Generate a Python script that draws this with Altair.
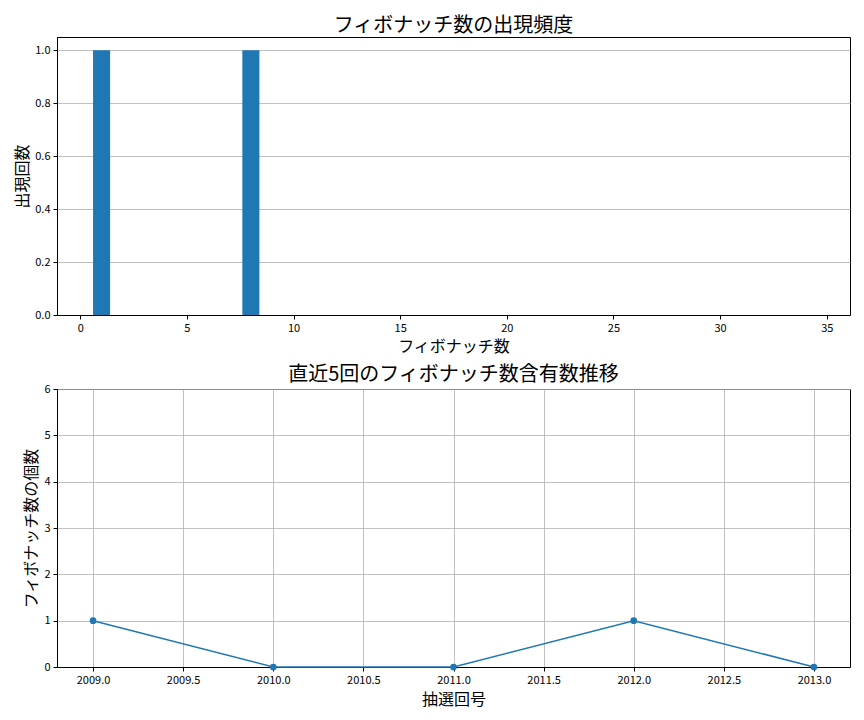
import altair as alt
import pandas as pd

fib_numbers = [1, 2, 3, 5, 8, 13, 21, 34]
fib_counts = [1, 0, 0, 0, 1, 0, 0, 0]

draws = [2009, 2010, 2011, 2012, 2013]
fib_in_draw = [1, 0, 0, 1, 0]

FONT = "Noto Sans CJK JP"
LABEL_FONT = "Liberation Sans Narrow, Noto Sans CJK JP"
BLUE = "#1f77b4"

df1 = pd.DataFrame({"fib": fib_numbers, "count": fib_counts})
df2 = pd.DataFrame({"draw": draws, "n": fib_in_draw})

top = alt.Chart(df1).transform_calculate(
    x0="datum.fib - 0.4", x1="datum.fib + 0.4"
).mark_bar(color=BLUE).encode(
    x=alt.X("x0:Q", scale=alt.Scale(domain=[-1.09, 36.09], nice=False, zero=False),
            axis=alt.Axis(title="フィボナッチ数", values=[0, 5, 10, 15, 20, 25, 30, 35],
                          grid=False, format="d", titlePadding=5)),
    x2="x1:Q",
    y=alt.Y("count:Q", scale=alt.Scale(domain=[0, 1.05], nice=False),
            axis=alt.Axis(title="出現回数", values=[0, 0.2, 0.4, 0.6, 0.8, 1.0],
                          format=".1f", grid=True, titlePadding=4)),
    y2=alt.Y2(datum=0),
).properties(
    width=793, height=278,
    title=alt.TitleParams("フィボナッチ数の出現頻度", fontSize=20, font=FONT,
                          fontWeight="normal", offset=1),
)

line = alt.Chart(df2).mark_line(color=BLUE, strokeWidth=1.5).encode(
    x=alt.X("draw:Q", scale=alt.Scale(domain=[2008.8, 2013.2], nice=False, zero=False),
            axis=alt.Axis(title="抽選回号",
                          values=[2009, 2009.5, 2010, 2010.5, 2011, 2011.5, 2012, 2012.5, 2013],
                          format=".1f", grid=True, titlePadding=6)),
    y=alt.Y("n:Q", scale=alt.Scale(domain=[0, 6], nice=False),
            axis=alt.Axis(title="フィボナッチ数の個数", values=[0, 1, 2, 3, 4, 5, 6],
                          format="d", grid=True, titlePadding=4)),
)
pts = alt.Chart(df2).mark_point(color=BLUE, filled=True, opacity=1, size=45).encode(
    x="draw:Q", y="n:Q"
)
bottom = alt.layer(line, pts).properties(
    width=793, height=278,
    title=alt.TitleParams("直近5回のフィボナッチ数含有数推移", fontSize=20, font=FONT,
                          fontWeight="normal", offset=-2),
)

chart = alt.vconcat(top, bottom, spacing=74, bounds="flush").configure(
    font=FONT, padding={"left": 6, "top": 7, "right": 5, "bottom": 5}
).configure_view(
    stroke="black", strokeWidth=1
).configure_axis(
    labelFont=LABEL_FONT, titleFont=FONT, labelFontSize=11, titleFontSize=16,
    titleFontWeight="normal", labelColor="black", titleColor="black",
    domainColor="black", tickColor="black", tickSize=4, gridColor="#b0b0b0",
    gridWidth=0.8, labelPadding=3,
)

chart.save("out.html", embed_options={"renderer": "svg", "actions": False})
